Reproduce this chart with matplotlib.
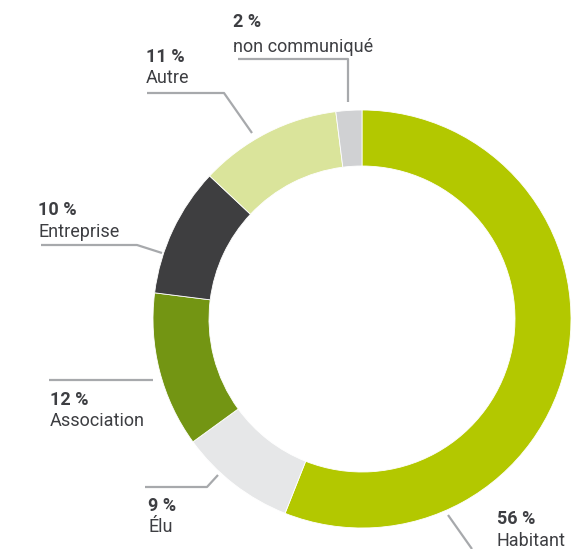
import matplotlib.pyplot as plt

# Données
categories = ['Habitant', 'Élu', 'Association', 'Entreprise', 'Autre', 'non communiqué']
valeurs = [56, 9, 12, 10, 11, 2]
couleurs = ['#b3c800', '#e6e7e8', '#739513', '#3e3e40', '#dae49b', '#d0d1d3']

# position du texte (x gauche, ligne de base du pourcentage, ligne de base du nom)
pos_texte = [(497, 524, 546), (148, 511, 532), (50, 405, 426),
             (38, 215, 237), (146, 62, 83), (233, 27, 52)]
traits = [
    [(448, 515), (472, 549)],
    [(145, 487), (207, 487), (218, 475)],
    [(49, 380), (153, 380)],
    [(41, 245), (137, 245), (162, 253)],
    [(147, 93), (224, 93), (252, 133)],
    [(238, 59), (348, 59), (348, 102)],
]

plt.rcParams['font.family'] = ['Roboto', 'DejaVu Sans']
fig = plt.figure(figsize=(5.88, 5.49), dpi=100)
ax = fig.add_axes([0, 0, 1, 1])

# axe inversé: y vers le bas, donc startangle=-90 = en haut
ax.pie(valeurs, colors=couleurs, startangle=-90, counterclock=True,
       center=(362, 319), radius=209,
       wedgeprops=dict(width=56, edgecolor='white', linewidth=0.6))

for (x, y1, y2), cat, v, tr in zip(pos_texte, categories, valeurs, traits):
    ax.text(x, y1, f'{v} %', fontsize=13, fontweight='bold', color='#3d3e42',
            ha='left', va='baseline')
    ax.text(x, y2, cat, fontsize=13, color='#3d3e42', ha='left', va='baseline')
    xs = [p[0] for p in tr]
    ys = [p[1] for p in tr]
    ax.plot(xs, ys, color='#a7a9ac', lw=1.6, solid_capstyle='butt')

ax.set_xlim(0, 588)
ax.set_ylim(549, 0)
ax.set_aspect('equal')
ax.axis('off')
fig.savefig('out.png', dpi=100)
